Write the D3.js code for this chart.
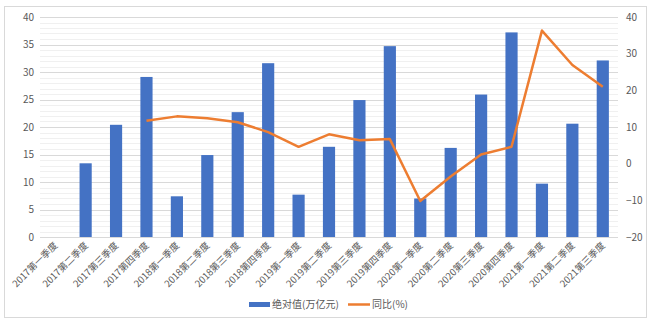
<!DOCTYPE html>
<html><head><meta charset="utf-8">
<script src="https://cdn.jsdelivr.net/npm/d3@7"></script>
<style>
body{margin:0;background:#fff;}
text{font-family:"Noto Sans CJK SC","Noto Sans",sans-serif;fill:#595959;}
</style></head>
<body><svg id="c" width="655" height="327"></svg>
<script>
const categories=["2017第一季度","2017第二季度","2017第三季度","2017第四季度","2018第一季度","2018第二季度","2018第三季度","2018第四季度","2019第一季度","2019第二季度","2019第三季度","2019第四季度","2020第一季度","2020第二季度","2020第三季度","2020第四季度","2021第一季度","2021第二季度","2021第三季度"];
const absValues=[null,13.4,20.4,29.1,7.4,14.9,22.7,31.6,7.7,16.4,24.9,34.7,7.0,16.2,25.9,37.2,9.7,20.6,32.1];
const yoyValues=[null,null,null,11.7,12.9,12.4,11.3,8.6,4.6,8.0,6.4,6.7,-10.2,-3.5,2.5,4.6,36.3,26.9,21.0];
const leftTicks=[0,5,10,15,20,25,30,35,40];
const rightTicks=[-20,-10,0,10,20,30,40];
const seriesNames=["绝对值(万亿元)","同比(%)"];

const svg=d3.select("#c");
const L=40,R=618,T=17,B=237;
svg.append("rect").attr("x",4.5).attr("y",6.5).attr("width",642).attr("height",311).attr("fill","#fff").attr("stroke","#d9d9d9");

const x=d3.scaleBand().domain(categories).range([L,R]).paddingInner(0.6).paddingOuter(0.3);
const yL=d3.scaleLinear().domain([0,40]).range([B,T]);
const yR=d3.scaleLinear().domain([-20,40]).range([B,T]);

// minor grid
const minor=d3.range(0,41,1).filter(v=>v%5!==0);
svg.append("g").selectAll("line").data(minor).join("line")
 .attr("x1",L).attr("x2",R).attr("y1",d=>Math.round(yL(d))+0.5).attr("y2",d=>Math.round(yL(d))+0.5)
 .attr("stroke","#f0f0f0");
svg.append("g").selectAll("line").data(leftTicks).join("line")
 .attr("x1",L).attr("x2",R).attr("y1",d=>Math.round(yL(d))+0.5).attr("y2",d=>Math.round(yL(d))+0.5)
 .attr("stroke","#d9d9d9");

// left axis
const ga=svg.append("g").attr("transform",`translate(${L-6},0)`).call(d3.axisLeft(yL).tickValues(leftTicks).tickSize(0).tickPadding(0));
ga.select(".domain").remove();
ga.selectAll("text").attr("font-size",10).style("fill","#595959");
const gr=svg.append("g").attr("transform",`translate(${R+8},0)`).call(d3.axisRight(yR).tickValues(rightTicks).tickSize(0).tickPadding(0));
gr.select(".domain").remove();
gr.selectAll("text").attr("font-size",10).style("fill","#595959");

// bars
svg.append("g").selectAll("rect").data(categories.map((c,i)=>({c,v:absValues[i]})).filter(d=>d.v!=null)).join("rect")
 .attr("x",d=>x(d.c)).attr("width",x.bandwidth()).attr("y",d=>yL(d.v)).attr("height",d=>yL(0)-yL(d.v)).attr("fill","#4472C4");

// line
const lineData=categories.map((c,i)=>({c,v:yoyValues[i]})).filter(d=>d.v!=null);
svg.append("path").datum(lineData).attr("fill","none").attr("stroke","#ED7D31").attr("stroke-width",2.5).attr("stroke-linejoin","round")
 .attr("d",d3.line().x(d=>x(d.c)+x.bandwidth()/2).y(d=>yR(d.v)));

// x labels
const gx=svg.append("g").attr("transform",`translate(0,${B})`).call(d3.axisBottom(x).tickSize(0).tickPadding(0));
gx.select(".domain").remove();
gx.selectAll("text").attr("font-size",9.5).style("fill","#595959").attr("text-anchor","end").attr("dy",0)
 .attr("transform","translate(3,9) rotate(-45)");

// legend
const lg=svg.append("g");
lg.append("rect").attr("x",249).attr("y",302).attr("width",21).attr("height",5).attr("fill","#4472C4");
lg.append("text").attr("x",272).attr("y",308).attr("font-size",10).text(seriesNames[0]);
lg.append("line").attr("x1",348).attr("x2",370).attr("y1",304.5).attr("y2",304.5).attr("stroke","#ED7D31").attr("stroke-width",2.5);
lg.append("text").attr("x",372).attr("y",308).attr("font-size",10).text(seriesNames[1]);
</script></body></html>
